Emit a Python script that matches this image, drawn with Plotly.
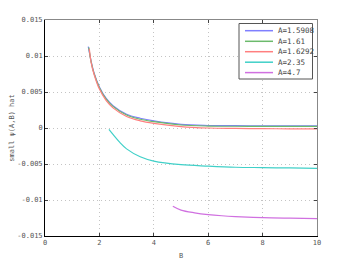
import plotly.graph_objects as go

names = ["A=1.5908", "A=1.61", "A=1.6292", "A=2.35", "A=4.7"]
colors = ["#7f7fff", "#6cba6c", "#ff7f7f", "#40d0c8", "#d070e0"]

B_blue = [1.5908, 1.7, 1.8, 2.0, 2.25, 2.5, 3.0, 3.5, 4.0, 5.0, 6.0, 7.0, 8.0, 9.0, 10.0]
y_blue = [0.0113, 0.0092, 0.0077, 0.0057, 0.0041, 0.0031, 0.0019, 0.00135, 0.00098, 0.0005, 0.00035, 0.00032, 0.00031, 0.00030, 0.00030]

B_green = [1.61, 1.7, 1.8, 2.0, 2.25, 2.5, 3.0, 3.5, 4.0, 5.0, 6.0, 7.0, 8.0, 9.0, 10.0]
y_green = [0.0112, 0.0091, 0.0076, 0.0056, 0.0040, 0.0030, 0.0018, 0.00122, 0.00088, 0.00042, 0.00027, 0.00024, 0.00023, 0.00022, 0.00022]

B_red = [1.6292, 1.7, 1.8, 2.0, 2.25, 2.5, 3.0, 3.5, 4.0, 5.0, 6.0, 7.0, 8.0, 9.0, 10.0]
y_red = [0.0110, 0.0090, 0.0075, 0.0054, 0.0038, 0.0028, 0.0016, 0.0010, 0.00065, 0.0002, 0.0, -0.00006, -0.0001, -0.00011, -0.00012]

B_cyan = [2.35, 2.5, 2.75, 3.0, 3.5, 4.0, 5.0, 6.0, 7.0, 8.0, 9.0, 10.0]
y_cyan = [-0.0002, -0.0009, -0.0020, -0.0029, -0.0040, -0.0046, -0.0051, -0.0053, -0.00545, -0.0055, -0.00555, -0.0056]

B_mag = [4.7, 5.0, 5.5, 6.0, 6.5, 7.0, 8.0, 9.0, 10.0]
y_mag = [-0.01087, -0.01140, -0.01178, -0.01203, -0.01219, -0.0123, -0.01245, -0.01253, -0.01259]

x_ticks = [0, 2, 4, 6, 8, 10]
y_ticks = [-0.015, -0.01, -0.005, 0, 0.005, 0.01, 0.015]
y_ticktext = ["-0.015", "-0.01", "-0.005", "0", "0.005", "0.01", "0.015"]

series = [(B_blue, y_blue), (B_green, y_green), (B_red, y_red), (B_cyan, y_cyan), (B_mag, y_mag)]

OFF = 8  # page body margin
W, H = 350 - OFF, 264 - OFF
ML, MR, MT, MB = 45 - OFF, 33, 20 - OFF, 28
PW, PH = W - ML - MR, H - MT - MB

def px_x(p):
    return (p - OFF - ML) / PW

def px_y(p):
    return (H - MB - (p - OFF)) / PH

fig = go.Figure()
for (bx, by), n, c in zip(series, names, colors):
    fig.add_trace(go.Scatter(x=bx, y=by, mode="lines", name=n, showlegend=False,
                             line=dict(color=c, width=1.2, shape="spline")))

font = dict(family="DejaVu Sans Mono", size=7, color="#555555")
grid = dict(showgrid=True, gridcolor="#c4c4c4", griddash="1px,3px", gridwidth=1)
fig.update_layout(
    width=W, height=H,
    margin=dict(l=ML, r=MR, t=MT, b=MB),
    paper_bgcolor="white", plot_bgcolor="white",
    font=font,
    showlegend=False,
    xaxis=dict(range=[0, 10], tickvals=x_ticks, ticks="inside", ticklen=3, automargin=False,
               showline=True, linecolor="black", linewidth=1, mirror=False,
               zeroline=False, title=dict(text="B", font=font, standoff=6), **grid),
    yaxis=dict(range=[-0.015, 0.015], tickvals=y_ticks, ticktext=y_ticktext, automargin=False,
               ticks="inside", ticklen=3,
               showline=True, linecolor="black", linewidth=1, mirror=False,
               zeroline=False, title=dict(text="small ψ(A,B) hat", font=font, standoff=6), **grid),
    xaxis2=dict(range=[0, 10], tickvals=x_ticks, ticks="inside", ticklen=3,
                overlaying="x", side="top", showticklabels=False,
                showline=True, linecolor="#888888", linewidth=1,
                showgrid=False, zeroline=False),
    yaxis2=dict(range=[-0.015, 0.015], tickvals=y_ticks, ticks="inside", ticklen=3,
                overlaying="y", side="right", showticklabels=False,
                showline=True, linecolor="#888888", linewidth=1,
                showgrid=False, zeroline=False),
)
fig.add_trace(go.Scatter(x=[None], y=[None], xaxis="x2", yaxis="y2", showlegend=False, hoverinfo="skip"))

# custom compact legend
fig.add_shape(type="rect", xref="paper", yref="paper",
              x0=px_x(239), x1=px_x(312.5), y0=px_y(79), y1=px_y(23.5),
              line=dict(color="#555555", width=1), fillcolor="white", layer="above")
legend_y = [30.7, 41.3, 51.7, 62.2, 72.6]
for n, c, ly in zip(names, colors, legend_y):
    fig.add_shape(type="line", xref="paper", yref="paper",
                  x0=px_x(245), x1=px_x(273), y0=px_y(ly), y1=px_y(ly),
                  line=dict(color=c, width=1.5), layer="above")
    fig.add_annotation(text=n, xref="paper", yref="paper", x=px_x(275.5), y=px_y(ly),
                       xanchor="left", yanchor="middle", showarrow=False,
                       font=dict(family="DejaVu Sans Mono", size=7.5, color="#444444"))

fig.write_html("out.html")
